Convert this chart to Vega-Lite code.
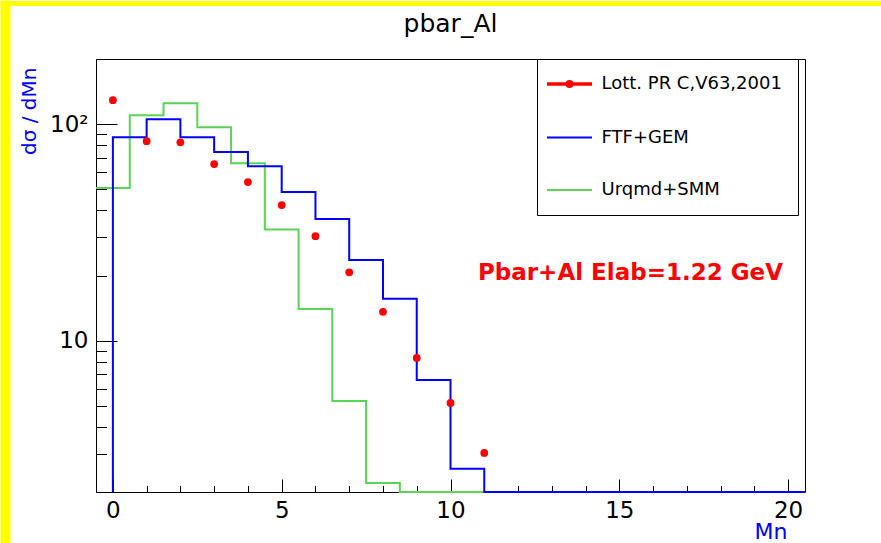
{
  "$schema": "https://vega.github.io/schema/vega-lite/v6.json",
  "width": 709,
  "height": 433,
  "autosize": {"type": "none"},
  "padding": {"left": 96, "top": 59, "right": 76, "bottom": 51},
  "background": "#ffffff",
  "title": {"text": "pbar_Al", "font": "DejaVu Sans", "fontSize": 25, "fontWeight": "normal", "color": "#000000", "anchor": "middle", "frame": "group", "offset": 20, "dy": 62},
  "config": {
    "view": {"stroke": "#000000", "strokeWidth": 1},
    "axis": {"grid": false, "domain": false, "labelFont": "DejaVu Sans", "titleFont": "DejaVu Sans", "tickColor": "#000000", "labelColor": "#000000"}
  },
  "datasets": {
    "urqmd": [
      {"series": "Urqmd+SMM", "i": 0, "x": -0.5, "y": 50.7},
      {"series": "Urqmd+SMM", "i": 1, "x": 0.5, "y": 110},
      {"series": "Urqmd+SMM", "i": 2, "x": 1.5, "y": 125},
      {"series": "Urqmd+SMM", "i": 3, "x": 2.5, "y": 96.9},
      {"series": "Urqmd+SMM", "i": 4, "x": 3.5, "y": 66},
      {"series": "Urqmd+SMM", "i": 5, "x": 4.5, "y": 32.6},
      {"series": "Urqmd+SMM", "i": 6, "x": 5.5, "y": 14},
      {"series": "Urqmd+SMM", "i": 7, "x": 6.5, "y": 5.27},
      {"series": "Urqmd+SMM", "i": 8, "x": 7.5, "y": 2.2},
      {"series": "Urqmd+SMM", "i": 9, "x": 8.5, "y": 1},
      {"series": "Urqmd+SMM", "i": 10, "x": 20.5, "y": 1}
    ],
    "ftf": [
      {"series": "FTF+GEM", "i": 0, "x": 0, "y": 1},
      {"series": "FTF+GEM", "i": 1, "x": 0, "y": 87},
      {"series": "FTF+GEM", "i": 2, "x": 1, "y": 105.5},
      {"series": "FTF+GEM", "i": 3, "x": 2, "y": 87},
      {"series": "FTF+GEM", "i": 4, "x": 3, "y": 74.3},
      {"series": "FTF+GEM", "i": 5, "x": 4, "y": 64},
      {"series": "FTF+GEM", "i": 6, "x": 5, "y": 48.6},
      {"series": "FTF+GEM", "i": 7, "x": 6, "y": 36.5},
      {"series": "FTF+GEM", "i": 8, "x": 7, "y": 23.6},
      {"series": "FTF+GEM", "i": 9, "x": 8, "y": 15.6},
      {"series": "FTF+GEM", "i": 10, "x": 9, "y": 6.59},
      {"series": "FTF+GEM", "i": 11, "x": 10, "y": 2.56},
      {"series": "FTF+GEM", "i": 12, "x": 11, "y": 1},
      {"series": "FTF+GEM", "i": 13, "x": 20.5, "y": 1}
    ],
    "exp": [
      {"series": "Lott. PR C,V63,2001", "x": 0, "y": 129},
      {"series": "Lott. PR C,V63,2001", "x": 1, "y": 83.4},
      {"series": "Lott. PR C,V63,2001", "x": 2, "y": 82.5},
      {"series": "Lott. PR C,V63,2001", "x": 3, "y": 65.4},
      {"series": "Lott. PR C,V63,2001", "x": 4, "y": 54},
      {"series": "Lott. PR C,V63,2001", "x": 5, "y": 42.3},
      {"series": "Lott. PR C,V63,2001", "x": 6, "y": 30.4},
      {"series": "Lott. PR C,V63,2001", "x": 7, "y": 20.7},
      {"series": "Lott. PR C,V63,2001", "x": 8, "y": 13.6},
      {"series": "Lott. PR C,V63,2001", "x": 9, "y": 8.32},
      {"series": "Lott. PR C,V63,2001", "x": 10, "y": 5.16},
      {"series": "Lott. PR C,V63,2001", "x": 11, "y": 3.03}
    ]
  },
  "layer": [
    {
      "data": {"name": "urqmd"},
      "mark": {"type": "line", "interpolate": "step-after", "strokeWidth": 2},
      "encoding": {
        "x": {"field": "x", "type": "quantitative", "scale": {"domain": [-0.5, 20.5], "nice": false, "zero": false},
          "axis": {"orient": "bottom", "values": [0, 5, 10, 15, 20], "tickSize": -13, "tickWidth": 1, "labelPadding": 20, "labelFontSize": 23, "labelAngle": 0, "labelFlush": false, "labelOverlap": false,
            "title": "Mn", "titleColor": "#0000ff", "titleFontSize": 22, "titleFontWeight": "normal", "titleAnchor": "end", "titleAlign": "right", "titleX": 691, "titleY": 46, "titleBaseline": "alphabetic"}},
        "y": {"field": "y", "type": "quantitative", "scale": {"type": "log", "domain": [2, 200], "nice": false, "clamp": true},
          "axis": {"orient": "left", "values": [10, 100], "labelExpr": "datum.value >= 100 ? '10²' : '10'", "tickSize": -21, "tickWidth": 1, "labelPadding": 29, "labelFontSize": 23, "labelBaseline": "middle", "labelFlush": false, "labelOverlap": false,
            "title": "dσ / dMn", "titleColor": "#0000ff", "titleFontSize": 20, "titleFontWeight": "normal", "titleAnchor": "end", "titleAlign": "right", "titleAngle": -90, "titleX": -57, "titleY": 8, "titleBaseline": "bottom"}},
        "color": {"field": "series", "type": "nominal",
          "scale": {"domain": ["Lott. PR C,V63,2001", "FTF+GEM", "Urqmd+SMM"], "range": ["#ff0000", "#0000ff", "#59d454"]},
          "legend": {"orient": "none", "legendX": 441, "legendY": 0, "title": null, "strokeColor": "#000000", "fillColor": "#ffffff", "padding": 16, "rowPadding": 34.5,
            "symbolSize": 2025, "symbolOffset": 7.5, "labelFont": "DejaVu Sans", "labelFontSize": 18, "labelColor": "#000000", "labelOffset": 23, "labelLimit": 400, "labelBaseline": "middle",
            "encode": {"symbols": {"update": {
              "shape": {"signal": "datum.value === 'Lott. PR C,V63,2001' ? 'M-1,0H1M-0.1,0A0.1,0.1,0,1,1,0.1,0A0.1,0.1,0,1,1,-0.1,0Z' : 'M-1,0H1'"},
              "fill": {"signal": "datum.value === 'Lott. PR C,V63,2001' ? '#ff0000' : 'transparent'"},
              "stroke": {"signal": "datum.value === 'Lott. PR C,V63,2001' ? '#ff0000' : (datum.value === 'FTF+GEM' ? '#0000ff' : '#59d454')"},
              "strokeWidth": {"signal": "datum.value === 'Lott. PR C,V63,2001' ? 3.5 : 2"},
              "size": {"value": 2025},
              "opacity": {"value": 1}
            }}}}},
        "order": {"field": "i", "type": "quantitative"}
      }
    },
    {
      "data": {"name": "ftf"},
      "mark": {"type": "line", "interpolate": "step-after", "strokeWidth": 2},
      "encoding": {
        "x": {"field": "x", "type": "quantitative",
          "axis": {"orient": "bottom", "values": [0, 1, 2, 3, 4, 5, 6, 7, 8, 9, 10, 11, 12, 13, 14, 15, 16, 17, 18, 19, 20], "tickSize": -6.5, "tickWidth": 1, "labels": false, "title": null}},
        "y": {"field": "y", "type": "quantitative",
          "axis": {"orient": "left", "values": [2, 3, 4, 5, 6, 7, 8, 9, 20, 30, 40, 50, 60, 70, 80, 90, 200], "tickSize": -10.5, "tickWidth": 1, "labels": false, "title": null}},
        "color": {"field": "series", "type": "nominal"},
        "order": {"field": "i", "type": "quantitative"}
      }
    },
    {
      "data": {"name": "exp"},
      "mark": {"type": "point", "shape": "circle", "filled": true, "size": 60, "opacity": 1},
      "encoding": {
        "x": {"field": "x", "type": "quantitative",
          "axis": {"orient": "top", "values": [-0.5], "labels": false, "title": null, "tickColor": "#ffff00", "tickWidth": 10, "tickSize": -543, "tickOffset": -91, "offset": 59}},
        "y": {"field": "y", "type": "quantitative",
          "axis": {"orient": "left", "values": [200], "labels": false, "title": null, "tickColor": "#ffff00", "tickWidth": 5, "tickSize": -881, "tickOffset": -56.5, "offset": 96}},
        "color": {"field": "series", "type": "nominal"}
      }
    },
    {
      "data": {"values": [{}]},
      "mark": {"type": "text", "font": "DejaVu Sans", "fontSize": 23, "fontWeight": "bold", "color": "#ff0000", "align": "center", "baseline": "alphabetic"},
      "encoding": {
        "x": {"datum": 15.33, "type": "quantitative", "axis": null},
        "y": {"datum": 19.06, "type": "quantitative", "axis": null},
        "text": {"value": "Pbar+Al Elab=1.22 GeV"}
      }
    }
  ],
  "resolve": {"axis": {"x": "independent", "y": "independent"}}
}
